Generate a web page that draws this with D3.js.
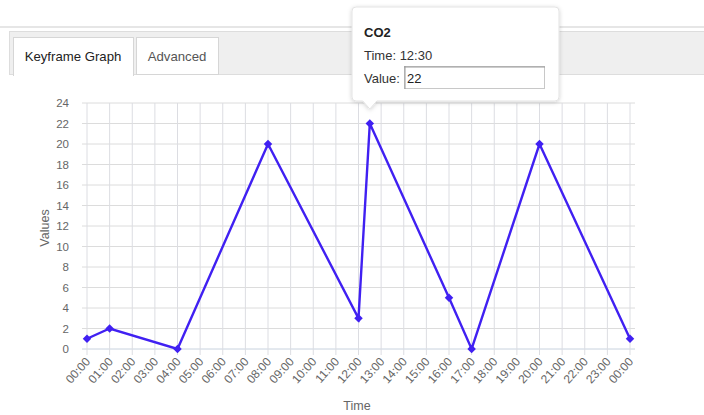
<!DOCTYPE html>
<html><head><meta charset="utf-8">
<script src="https://cdn.jsdelivr.net/npm/d3@7"></script>
<style>
html,body{margin:0;padding:0;background:#fff;width:704px;height:415px;overflow:hidden;font-family:"Liberation Sans",Arial,sans-serif;}
svg{display:block;}
</style></head><body>
<svg id="c" width="704" height="415"></svg>
<script>
const hours = [0,1,4,8,12,12.5,16,17,20,24];
const values = [1,2,0,20,3,22,5,0,20,1];
const xTickLabels = ["00:00","01:00","02:00","03:00","04:00","05:00","06:00","07:00","08:00","09:00","10:00","11:00","12:00","13:00","14:00","15:00","16:00","17:00","18:00","19:00","20:00","21:00","22:00","23:00","00:00"];
const yTicks = [0,2,4,6,8,10,12,14,16,18,20,22,24];
const tabs = ["Keyframe Graph","Advanced"];
const tip = {series:"CO2", time:"12:30", value:"22"};

const svg = d3.select("#c");
const x = d3.scaleLinear().domain([0,24]).range([87,630]);
const y = d3.scaleLinear().domain([0,24]).range([349,103]);

// tab bar
svg.append("rect").attr("x",0).attr("y",26).attr("width",704).attr("height",2).attr("fill","#e6e6e6");
svg.append("rect").attr("x",9.5).attr("y",31.5).attr("width",700).attr("height",43).attr("fill","#efefef").attr("stroke","#dddddd");
const tabX=[13,136], tabW=[120,82];
tabs.forEach((t,i)=>{
  svg.append("rect").attr("x",tabX[i]+0.5).attr("y",37.5).attr("width",tabW[i]).attr("height",i==0?38:37)
    .attr("fill","#fff").attr("stroke","#d6d6d6");
  svg.append("text").attr("x",tabX[i]+tabW[i]/2).attr("y",61).attr("text-anchor","middle")
    .attr("font-size",13.2).attr("fill",i==0?"#222":"#555").text(t);
});
svg.append("rect").attr("x",14).attr("y",74).attr("width",119).attr("height",3).attr("fill","#fff");

// grid
const g = svg.append("g");
g.selectAll(".hg").data(yTicks).join("line")
  .attr("x1",82).attr("x2",635).attr("y1",d=>y(d)).attr("y2",d=>y(d))
  .attr("stroke",d=>d==0?"#c8d2de":"#dcdcdc").attr("stroke-width",1);
g.selectAll(".vg").data(d3.range(25)).join("line")
  .attr("x1",d=>x(d)).attr("x2",d=>x(d)).attr("y1",y(24)).attr("y2",y(0)+6)
  .attr("stroke","#dcdde2").attr("stroke-width",1);

g.selectAll(".yl").data(yTicks).join("text")
  .attr("x",69).attr("y",d=>y(d)+4).attr("text-anchor","end")
  .attr("font-size",11.5).attr("fill","#666").text(d=>d);
g.selectAll(".xl").data(xTickLabels).join("text")
  .attr("transform",(d,i)=>`translate(${x(i)+4},${y(0)+13}) rotate(-48)`)
  .attr("text-anchor","end").attr("font-size",12).attr("fill","#666").text(d=>d);

svg.append("text").attr("x",357).attr("y",410).attr("text-anchor","middle").attr("font-size",12.5).attr("fill","#666").text("Time");
svg.append("text").attr("transform","translate(49,228) rotate(-90)").attr("text-anchor","middle").attr("font-size",12.5).attr("fill","#666").text("Values");

const pts = hours.map((h,i)=>[h,values[i]]);
const col = "#4020f2";
svg.append("path").datum(pts)
  .attr("d",d3.line().x(d=>x(d[0])).y(d=>y(d[1])))
  .attr("fill","none").attr("stroke",col).attr("stroke-width",2.4);
svg.selectAll(".pt").data(pts).join("path")
  .attr("d",d3.symbol().type(d3.symbolSquare).size(36))
  .attr("transform",d=>`translate(${x(d[0])},${y(d[1])}) rotate(45)`).attr("fill",col);

// tooltip
const defs = svg.append("defs");
const f = defs.append("filter").attr("id","sh").attr("x","-10%").attr("y","-10%").attr("width","130%").attr("height","130%");
f.append("feDropShadow").attr("dx",0).attr("dy",1).attr("stdDeviation",2).attr("flood-color","#000").attr("flood-opacity",0.18);
const tx = x(12.5);
const tg = svg.append("g").attr("filter","url(#sh)");
tg.append("path").attr("d",`M356,7 H555 Q559,7 559,11 V97 Q559,101 555,101 H${tx+7} L${tx},109 L${tx-7},101 H356 Q352,101 352,97 V11 Q352,7 356,7 Z`)
  .attr("fill","#fff").attr("stroke","#e3e3e3");
svg.append("text").attr("x",364).attr("y",37).attr("font-size",13).attr("font-weight","bold").attr("fill","#222").text(tip.series);
svg.append("text").attr("x",364).attr("y",60).attr("font-size",13).attr("fill","#333").text("Time: "+tip.time);
svg.append("text").attr("x",364).attr("y",83).attr("font-size",13).attr("fill","#333").text("Value:");
svg.append("rect").attr("x",404.5).attr("y",66.5).attr("width",140).attr("height",22).attr("fill","#fff").attr("stroke","#c8c8c8");
svg.append("line").attr("x1",404).attr("x2",545).attr("y1",67).attr("y2",67).attr("stroke","#999");
svg.append("line").attr("x1",405).attr("x2",405).attr("y1",66).attr("y2",89).attr("stroke","#999");
svg.append("text").attr("x",407).attr("y",83).attr("font-size",13).attr("fill","#222").text(tip.value);
</script>
</body></html>
